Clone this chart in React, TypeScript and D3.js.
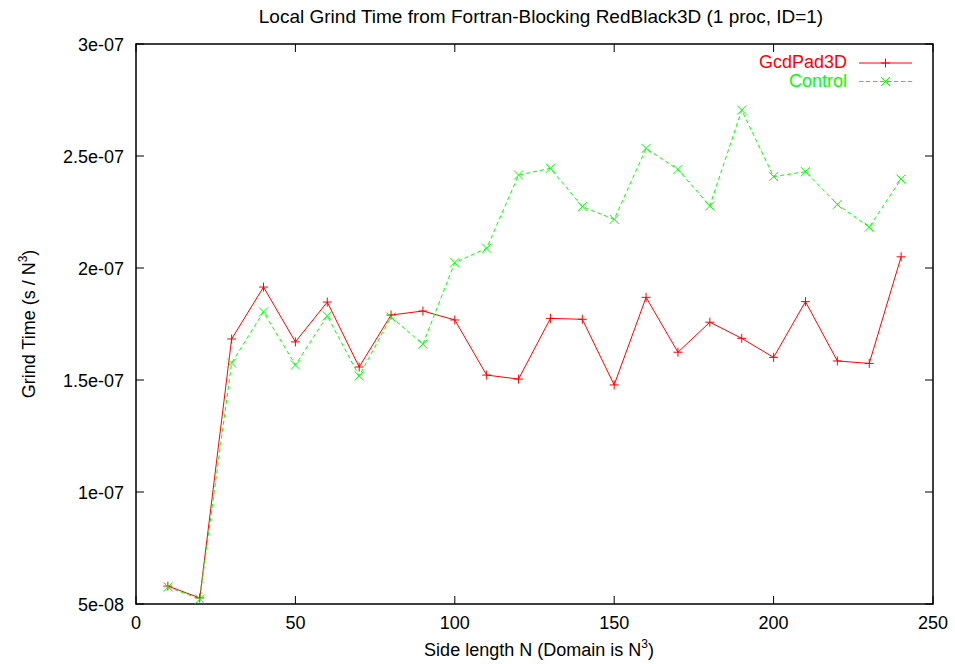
import React from 'react';
import * as d3 from 'd3';

// Side length N
const sizes = [10, 20, 30, 40, 50, 60, 70, 80, 90, 100, 110, 120, 130, 140, 150, 160, 170, 180, 190, 200, 210, 220, 230, 240];

// Grind time (s / N^3)
const gcdPad3D = [
  5.8e-8, 5.27e-8, 1.683e-7, 1.915e-7, 1.67e-7, 1.848e-7, 1.558e-7, 1.79e-7, 1.808e-7, 1.768e-7,
  1.522e-7, 1.504e-7, 1.775e-7, 1.771e-7, 1.478e-7, 1.869e-7, 1.624e-7, 1.758e-7, 1.686e-7, 1.601e-7,
  1.85e-7, 1.585e-7, 1.574e-7, 2.05e-7,
];
const control = [
  5.76e-8, 5.22e-8, 1.576e-7, 1.804e-7, 1.567e-7, 1.786e-7, 1.518e-7, 1.781e-7, 1.66e-7, 2.024e-7,
  2.088e-7, 2.415e-7, 2.445e-7, 2.274e-7, 2.217e-7, 2.534e-7, 2.44e-7, 2.277e-7, 2.705e-7, 2.408e-7,
  2.43e-7, 2.284e-7, 2.182e-7, 2.397e-7,
];

const xTicks = [0, 50, 100, 150, 200, 250];
const yTicks = [5e-8, 1e-7, 1.5e-7, 2e-7, 2.5e-7, 3e-7];
const yTickLabels = ['5e-08', '1e-07', '1.5e-07', '2e-07', '2.5e-07', '3e-07'];

const W = 955, H = 664;
const margin = { top: 44, right: 22, bottom: 60, left: 136 };
const font = 'Liberation Sans, Arial, sans-serif';
const fs = 18;

export default function App() {
  const x = d3.scaleLinear().domain([0, 250]).range([margin.left, W - margin.right]);
  const y = d3.scaleLinear().domain([5e-8, 3e-7]).range([H - margin.bottom, margin.top]);

  const line = d3.line<number>()
    .x((_, i) => x(sizes[i]))
    .y(d => y(d));

  const x0 = x(0), x1 = x(250), y0 = y(5e-8), y1 = y(3e-7);
  const tk = 8;
  const m = 4.5;

  const plus = (cx: number, cy: number, key: string) => (
    <path key={key} d={`M${cx - m},${cy}H${cx + m}M${cx},${cy - m}V${cy + m}`} stroke="#ff0000" strokeWidth={1} />
  );
  const cross = (cx: number, cy: number, key: string) => (
    <path key={key} d={`M${cx - m},${cy - m}L${cx + m},${cy + m}M${cx - m},${cy + m}L${cx + m},${cy - m}`} stroke="#00ff00" strokeWidth={1} />
  );

  return (
    <svg width={W} height={H} style={{ position: 'absolute', left: 0, top: 0, background: '#fff' }}>
      <rect width={W} height={H} fill="#fff" />
      <text x={541} y={23} textAnchor="middle" fontFamily={font} fontSize={19}>
        Local Grind Time from Fortran-Blocking RedBlack3D (1 proc, ID=1)
      </text>

      {/* axes frame */}
      <rect x={x0} y={y1} width={x1 - x0} height={y0 - y1} fill="none" stroke="#000" strokeWidth={1.5} />

      {xTicks.map(t => (
        <g key={'x' + t}>
          <line x1={x(t)} x2={x(t)} y1={y0} y2={y0 - tk} stroke="#000" />
          <line x1={x(t)} x2={x(t)} y1={y1} y2={y1 + tk} stroke="#000" />
          <text x={x(t)} y={y0 + 25} textAnchor="middle" fontFamily={font} fontSize={fs}>{t}</text>
        </g>
      ))}
      {yTicks.map((t, i) => (
        <g key={'y' + t}>
          <line x1={x0} x2={x0 + tk} y1={y(t)} y2={y(t)} stroke="#000" />
          <line x1={x1} x2={x1 - tk} y1={y(t)} y2={y(t)} stroke="#000" />
          <text x={x0 - 12} y={y(t) + 6.5} textAnchor="end" fontFamily={font} fontSize={fs}>{yTickLabels[i]}</text>
        </g>
      ))}

      <text x={539} y={656} textAnchor="middle" fontFamily={font} fontSize={fs}>
        Side length N (Domain is N<tspan dy={-8} fontSize={12}>3</tspan><tspan dy={8}>)</tspan>
      </text>
      <text transform={`translate(35,${(y0 + y1) / 2}) rotate(-90)`} textAnchor="middle" fontFamily={font} fontSize={fs}>
        Grind Time (s / N<tspan dy={-8} fontSize={12}>3</tspan><tspan dy={8}>)</tspan>
      </text>

      {/* series */}
      <path d={line(gcdPad3D) || ''} fill="none" stroke="#ff0000" strokeWidth={1} />
      <path d={line(control) || ''} fill="none" stroke="#00ff00" strokeWidth={1} strokeDasharray="4,3" />
      {gcdPad3D.map((v, i) => plus(x(sizes[i]), y(v), 'p' + i))}
      {control.map((v, i) => cross(x(sizes[i]), y(v), 'c' + i))}

      {/* legend */}
      <text x={847} y={68} textAnchor="end" fontFamily={font} fontSize={fs} fill="#ff0000">GcdPad3D</text>
      <line x1={859} x2={912} y1={63} y2={63} stroke="#ff0000" />
      {plus(885.5, 63, 'lp')}
      <text x={847} y={87} textAnchor="end" fontFamily={font} fontSize={fs} fill="#00ff00">Control</text>
      <line x1={859} x2={912} y1={81.5} y2={81.5} stroke="#00ff00" strokeDasharray="4,3" />
      {cross(885.5, 81.5, 'lc')}
    </svg>
  );
}
